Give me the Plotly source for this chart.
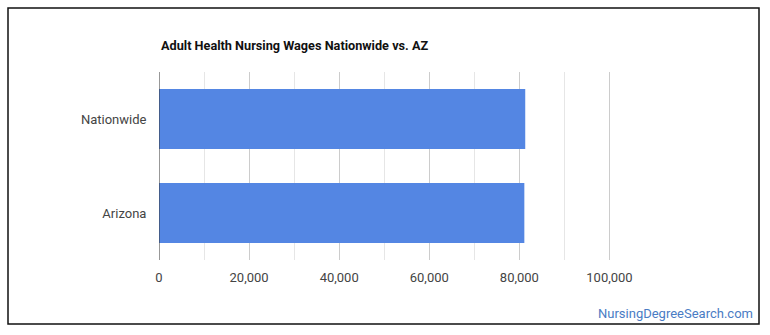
import plotly.graph_objects as go

categories = ["Nationwide", "Arizona"]
wages = [81300, 81100]
tick_values = [0, 20000, 40000, 60000, 80000, 100000]
tick_labels = ["0", "20,000", "40,000", "60,000", "80,000", "100,000"]
title_text = "Adult Health Nursing Wages Nationwide vs. AZ"
watermark = "NursingDegreeSearch.com"

fig = go.Figure(
    go.Bar(
        x=wages,
        y=categories,
        orientation="h",
        marker=dict(color="#5486e3", line=dict(width=0)),
        hoverinfo="x+y",
    )
)

fig.update_layout(
    width=770,
    height=335,
    margin=dict(l=159, r=138, t=72, b=75, autoexpand=False),
    paper_bgcolor="white",
    plot_bgcolor="white",
    bargap=0.36,
    showlegend=False,
    font=dict(family="Roboto, Arial, sans-serif", size=13, color="#444"),
    shapes=[
        dict(type="rect", xref="x domain", yref="y domain",
             x0=-151 / 473, x1=(759 - 159) / 473,
             y0=-(324 - 260) / 188, y1=1 + (72 - 8) / 188,
             line=dict(color="#111", width=1.5), layer="above"),
    ],
    annotations=[
        dict(text="<b>" + title_text + "</b>", xref="paper", yref="paper",
             x=0, y=1 + (72 - 46) / 188, xanchor="left", yanchor="middle",
             showarrow=False, font=dict(size=12.7, color="#111")),
        dict(text=watermark, xref="paper", yref="paper",
             x=(755 - 159) / 473, y=-(313 - 260) / 188,
             xanchor="right", yanchor="middle", showarrow=False,
             font=dict(size=13, color="#4a7cc4")),
    ],
)

fig.update_xaxes(
    range=[0, 105000],
    tickvals=tick_values,
    ticktext=tick_labels,
    showgrid=True,
    gridcolor="#cccccc",
    gridwidth=1,
    minor=dict(dtick=10000, tick0=0, showgrid=True, gridcolor="#e6e6e6", gridwidth=1),
    zeroline=False,
    showline=False,
    ticks="outside",
    ticklen=5,
    tickcolor="rgba(0,0,0,0)",
    tickfont=dict(size=13, color="#444"),
    fixedrange=True,
)

fig.update_yaxes(
    categoryorder="array",
    categoryarray=categories[::-1],
    showgrid=False,
    zeroline=False,
    showline=False,
    ticks="outside",
    ticklen=9,
    tickcolor="rgba(0,0,0,0)",
    tickfont=dict(size=13, color="#444"),
    fixedrange=True,
)

fig.add_shape(type="line", xref="x", yref="y domain", x0=0, x1=0, y0=0, y1=1,
              line=dict(color="#333", width=1), layer="above")

fig.write_html("out.html", config={"displayModeBar": False})
